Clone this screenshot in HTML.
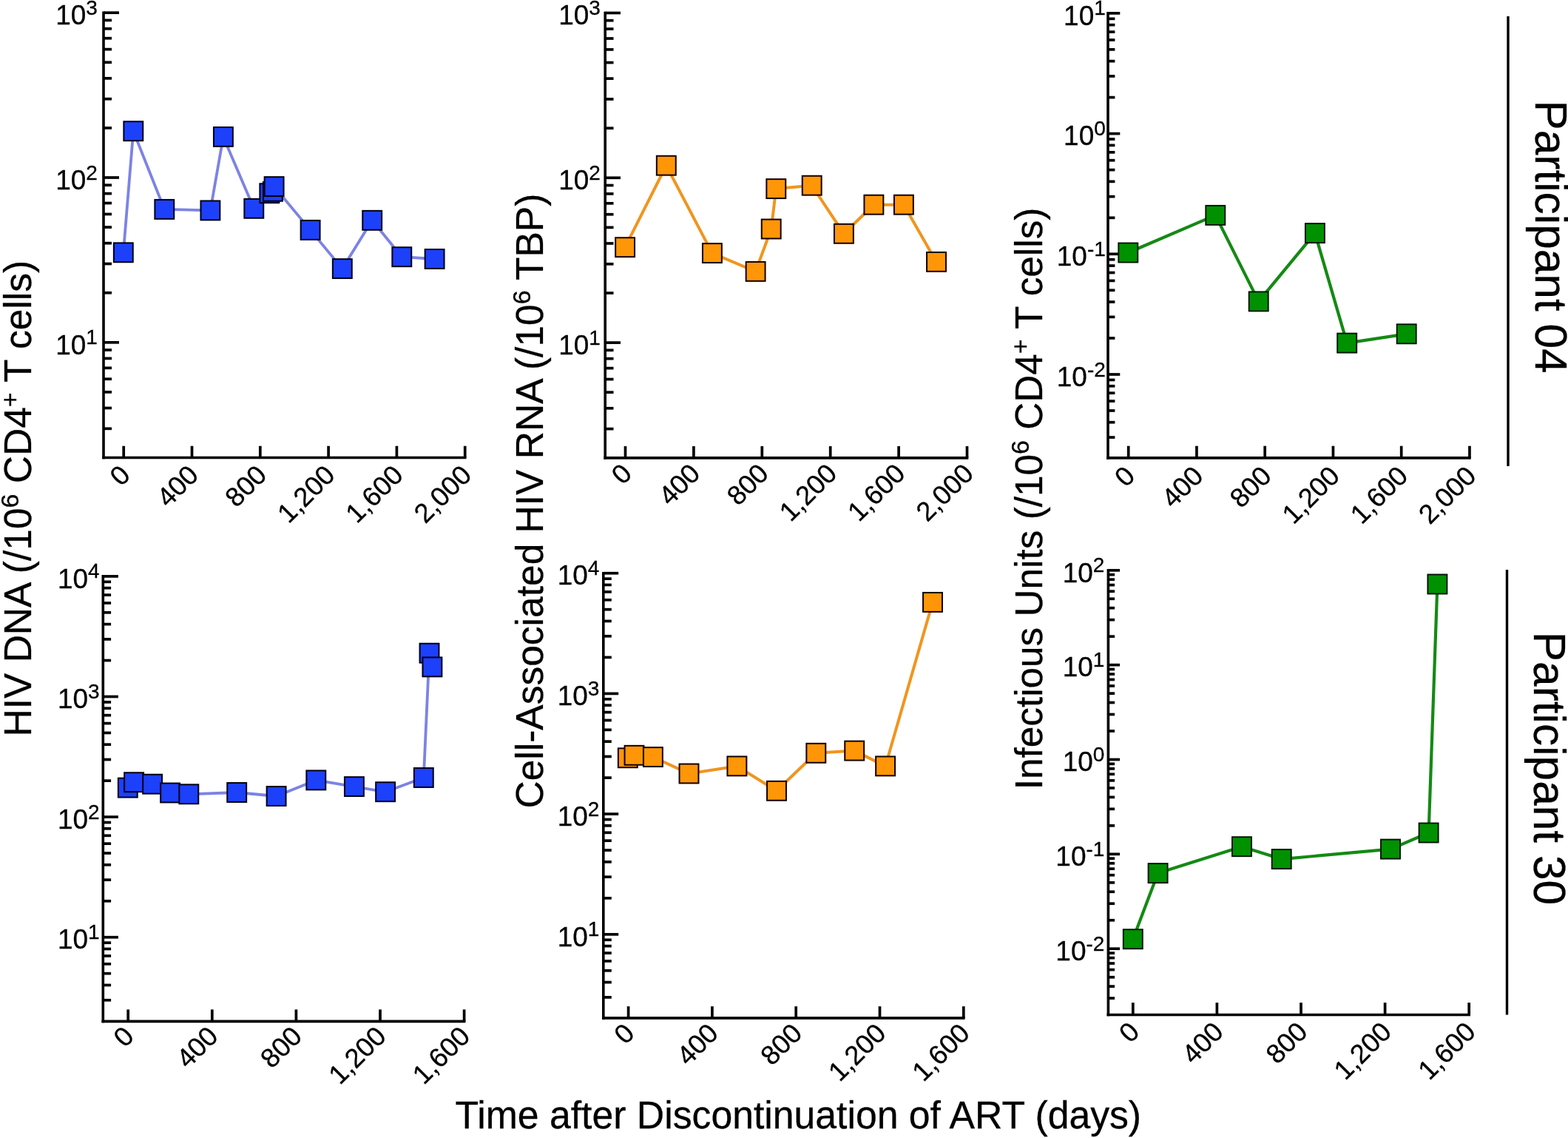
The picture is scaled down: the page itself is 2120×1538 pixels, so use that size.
<!DOCTYPE html>
<html><head><meta charset="utf-8">
<style>html,body{margin:0;padding:0;background:#fff;}body{width:2120px;height:1538px;overflow:hidden;}svg{display:block;}text{stroke:#000;stroke-width:0.3px;}</style>
</head><body>
<svg width="2120" height="1538" viewBox="0 0 2120 1538" font-family="'Liberation Sans', Arial, sans-serif" fill="#000">
<rect width="2120" height="1538" fill="#fff"/>
<line x1="140.00" y1="15.40" x2="140.00" y2="620.33" stroke="#000" stroke-width="3.6"/>
<line x1="138.20" y1="618.53" x2="630.50" y2="618.53" stroke="#000" stroke-width="3.6"/>
<line x1="140.00" y1="579.30" x2="151.00" y2="579.30" stroke="#000" stroke-width="3.7"/>
<line x1="140.00" y1="551.46" x2="151.00" y2="551.46" stroke="#000" stroke-width="3.7"/>
<line x1="140.00" y1="529.87" x2="151.00" y2="529.87" stroke="#000" stroke-width="3.7"/>
<line x1="140.00" y1="512.23" x2="151.00" y2="512.23" stroke="#000" stroke-width="3.7"/>
<line x1="140.00" y1="497.31" x2="151.00" y2="497.31" stroke="#000" stroke-width="3.7"/>
<line x1="140.00" y1="484.39" x2="151.00" y2="484.39" stroke="#000" stroke-width="3.7"/>
<line x1="140.00" y1="472.99" x2="151.00" y2="472.99" stroke="#000" stroke-width="3.7"/>
<line x1="140.00" y1="462.80" x2="161.00" y2="462.80" stroke="#000" stroke-width="3.7"/>
<line x1="140.00" y1="395.73" x2="151.00" y2="395.73" stroke="#000" stroke-width="3.7"/>
<line x1="140.00" y1="356.50" x2="151.00" y2="356.50" stroke="#000" stroke-width="3.7"/>
<line x1="140.00" y1="328.66" x2="151.00" y2="328.66" stroke="#000" stroke-width="3.7"/>
<line x1="140.00" y1="307.07" x2="151.00" y2="307.07" stroke="#000" stroke-width="3.7"/>
<line x1="140.00" y1="289.43" x2="151.00" y2="289.43" stroke="#000" stroke-width="3.7"/>
<line x1="140.00" y1="274.51" x2="151.00" y2="274.51" stroke="#000" stroke-width="3.7"/>
<line x1="140.00" y1="261.59" x2="151.00" y2="261.59" stroke="#000" stroke-width="3.7"/>
<line x1="140.00" y1="250.19" x2="151.00" y2="250.19" stroke="#000" stroke-width="3.7"/>
<line x1="140.00" y1="240.00" x2="161.00" y2="240.00" stroke="#000" stroke-width="3.7"/>
<line x1="140.00" y1="172.93" x2="151.00" y2="172.93" stroke="#000" stroke-width="3.7"/>
<line x1="140.00" y1="133.70" x2="151.00" y2="133.70" stroke="#000" stroke-width="3.7"/>
<line x1="140.00" y1="105.86" x2="151.00" y2="105.86" stroke="#000" stroke-width="3.7"/>
<line x1="140.00" y1="84.27" x2="151.00" y2="84.27" stroke="#000" stroke-width="3.7"/>
<line x1="140.00" y1="66.63" x2="151.00" y2="66.63" stroke="#000" stroke-width="3.7"/>
<line x1="140.00" y1="51.71" x2="151.00" y2="51.71" stroke="#000" stroke-width="3.7"/>
<line x1="140.00" y1="38.79" x2="151.00" y2="38.79" stroke="#000" stroke-width="3.7"/>
<line x1="140.00" y1="27.39" x2="151.00" y2="27.39" stroke="#000" stroke-width="3.7"/>
<line x1="140.00" y1="17.20" x2="161.00" y2="17.20" stroke="#000" stroke-width="3.7"/>
<line x1="167.20" y1="602.73" x2="167.20" y2="618.53" stroke="#000" stroke-width="3.7"/>
<line x1="259.50" y1="602.73" x2="259.50" y2="618.53" stroke="#000" stroke-width="3.7"/>
<line x1="351.80" y1="602.73" x2="351.80" y2="618.53" stroke="#000" stroke-width="3.7"/>
<line x1="444.10" y1="602.73" x2="444.10" y2="618.53" stroke="#000" stroke-width="3.7"/>
<line x1="536.40" y1="602.73" x2="536.40" y2="618.53" stroke="#000" stroke-width="3.7"/>
<line x1="628.70" y1="602.73" x2="628.70" y2="618.53" stroke="#000" stroke-width="3.7"/>
<text x="131.90" y="32.90" text-anchor="end" font-size="37">10<tspan font-size="28" dy="-13.2">3</tspan></text>
<text x="131.90" y="255.70" text-anchor="end" font-size="37">10<tspan font-size="28" dy="-13.2">2</tspan></text>
<text x="131.90" y="478.50" text-anchor="end" font-size="37">10<tspan font-size="28" dy="-13.2">1</tspan></text>
<text transform="translate(178.00,644.13) rotate(-45)" text-anchor="end" font-size="36.5">0</text>
<text transform="translate(270.30,644.13) rotate(-45)" text-anchor="end" font-size="36.5">400</text>
<text transform="translate(362.60,644.13) rotate(-45)" text-anchor="end" font-size="36.5">800</text>
<text transform="translate(454.90,644.13) rotate(-45)" text-anchor="end" font-size="36.5">1,200</text>
<text transform="translate(547.20,644.13) rotate(-45)" text-anchor="end" font-size="36.5">1,600</text>
<text transform="translate(639.50,644.13) rotate(-45)" text-anchor="end" font-size="36.5">2,000</text>
<line x1="818.20" y1="15.70" x2="818.20" y2="620.63" stroke="#000" stroke-width="3.6"/>
<line x1="816.40" y1="618.83" x2="1309.30" y2="618.83" stroke="#000" stroke-width="3.6"/>
<line x1="818.20" y1="579.60" x2="829.50" y2="579.60" stroke="#000" stroke-width="3.7"/>
<line x1="818.20" y1="551.76" x2="829.50" y2="551.76" stroke="#000" stroke-width="3.7"/>
<line x1="818.20" y1="530.17" x2="829.50" y2="530.17" stroke="#000" stroke-width="3.7"/>
<line x1="818.20" y1="512.53" x2="829.50" y2="512.53" stroke="#000" stroke-width="3.7"/>
<line x1="818.20" y1="497.61" x2="829.50" y2="497.61" stroke="#000" stroke-width="3.7"/>
<line x1="818.20" y1="484.69" x2="829.50" y2="484.69" stroke="#000" stroke-width="3.7"/>
<line x1="818.20" y1="473.29" x2="829.50" y2="473.29" stroke="#000" stroke-width="3.7"/>
<line x1="818.20" y1="463.10" x2="839.00" y2="463.10" stroke="#000" stroke-width="3.7"/>
<line x1="818.20" y1="396.03" x2="829.50" y2="396.03" stroke="#000" stroke-width="3.7"/>
<line x1="818.20" y1="356.80" x2="829.50" y2="356.80" stroke="#000" stroke-width="3.7"/>
<line x1="818.20" y1="328.96" x2="829.50" y2="328.96" stroke="#000" stroke-width="3.7"/>
<line x1="818.20" y1="307.37" x2="829.50" y2="307.37" stroke="#000" stroke-width="3.7"/>
<line x1="818.20" y1="289.73" x2="829.50" y2="289.73" stroke="#000" stroke-width="3.7"/>
<line x1="818.20" y1="274.81" x2="829.50" y2="274.81" stroke="#000" stroke-width="3.7"/>
<line x1="818.20" y1="261.89" x2="829.50" y2="261.89" stroke="#000" stroke-width="3.7"/>
<line x1="818.20" y1="250.49" x2="829.50" y2="250.49" stroke="#000" stroke-width="3.7"/>
<line x1="818.20" y1="240.30" x2="839.00" y2="240.30" stroke="#000" stroke-width="3.7"/>
<line x1="818.20" y1="173.23" x2="829.50" y2="173.23" stroke="#000" stroke-width="3.7"/>
<line x1="818.20" y1="134.00" x2="829.50" y2="134.00" stroke="#000" stroke-width="3.7"/>
<line x1="818.20" y1="106.16" x2="829.50" y2="106.16" stroke="#000" stroke-width="3.7"/>
<line x1="818.20" y1="84.57" x2="829.50" y2="84.57" stroke="#000" stroke-width="3.7"/>
<line x1="818.20" y1="66.93" x2="829.50" y2="66.93" stroke="#000" stroke-width="3.7"/>
<line x1="818.20" y1="52.01" x2="829.50" y2="52.01" stroke="#000" stroke-width="3.7"/>
<line x1="818.20" y1="39.09" x2="829.50" y2="39.09" stroke="#000" stroke-width="3.7"/>
<line x1="818.20" y1="27.69" x2="829.50" y2="27.69" stroke="#000" stroke-width="3.7"/>
<line x1="818.20" y1="17.50" x2="839.00" y2="17.50" stroke="#000" stroke-width="3.7"/>
<line x1="845.50" y1="603.03" x2="845.50" y2="618.83" stroke="#000" stroke-width="3.7"/>
<line x1="937.90" y1="603.03" x2="937.90" y2="618.83" stroke="#000" stroke-width="3.7"/>
<line x1="1030.30" y1="603.03" x2="1030.30" y2="618.83" stroke="#000" stroke-width="3.7"/>
<line x1="1122.70" y1="603.03" x2="1122.70" y2="618.83" stroke="#000" stroke-width="3.7"/>
<line x1="1215.10" y1="603.03" x2="1215.10" y2="618.83" stroke="#000" stroke-width="3.7"/>
<line x1="1307.50" y1="603.03" x2="1307.50" y2="618.83" stroke="#000" stroke-width="3.7"/>
<text x="811.90" y="33.20" text-anchor="end" font-size="37">10<tspan font-size="28" dy="-13.2">3</tspan></text>
<text x="811.90" y="256.00" text-anchor="end" font-size="37">10<tspan font-size="28" dy="-13.2">2</tspan></text>
<text x="811.90" y="478.80" text-anchor="end" font-size="37">10<tspan font-size="28" dy="-13.2">1</tspan></text>
<text transform="translate(856.30,642.03) rotate(-45)" text-anchor="end" font-size="36.5">0</text>
<text transform="translate(948.70,642.03) rotate(-45)" text-anchor="end" font-size="36.5">400</text>
<text transform="translate(1041.10,642.03) rotate(-45)" text-anchor="end" font-size="36.5">800</text>
<text transform="translate(1133.50,642.03) rotate(-45)" text-anchor="end" font-size="36.5">1,200</text>
<text transform="translate(1225.90,642.03) rotate(-45)" text-anchor="end" font-size="36.5">1,600</text>
<text transform="translate(1318.30,642.03) rotate(-45)" text-anchor="end" font-size="36.5">2,000</text>
<line x1="1498.00" y1="16.10" x2="1498.00" y2="620.70" stroke="#000" stroke-width="3.6"/>
<line x1="1496.20" y1="618.90" x2="1988.75" y2="618.90" stroke="#000" stroke-width="3.6"/>
<line x1="1498.00" y1="591.07" x2="1507.40" y2="591.07" stroke="#000" stroke-width="3.7"/>
<line x1="1498.00" y1="570.74" x2="1507.40" y2="570.74" stroke="#000" stroke-width="3.7"/>
<line x1="1498.00" y1="554.98" x2="1507.40" y2="554.98" stroke="#000" stroke-width="3.7"/>
<line x1="1498.00" y1="542.09" x2="1507.40" y2="542.09" stroke="#000" stroke-width="3.7"/>
<line x1="1498.00" y1="531.20" x2="1507.40" y2="531.20" stroke="#000" stroke-width="3.7"/>
<line x1="1498.00" y1="521.77" x2="1507.40" y2="521.77" stroke="#000" stroke-width="3.7"/>
<line x1="1498.00" y1="513.44" x2="1507.40" y2="513.44" stroke="#000" stroke-width="3.7"/>
<line x1="1498.00" y1="506.00" x2="1514.30" y2="506.00" stroke="#000" stroke-width="3.7"/>
<line x1="1498.00" y1="457.02" x2="1507.40" y2="457.02" stroke="#000" stroke-width="3.7"/>
<line x1="1498.00" y1="428.37" x2="1507.40" y2="428.37" stroke="#000" stroke-width="3.7"/>
<line x1="1498.00" y1="408.04" x2="1507.40" y2="408.04" stroke="#000" stroke-width="3.7"/>
<line x1="1498.00" y1="392.28" x2="1507.40" y2="392.28" stroke="#000" stroke-width="3.7"/>
<line x1="1498.00" y1="379.39" x2="1507.40" y2="379.39" stroke="#000" stroke-width="3.7"/>
<line x1="1498.00" y1="368.50" x2="1507.40" y2="368.50" stroke="#000" stroke-width="3.7"/>
<line x1="1498.00" y1="359.07" x2="1507.40" y2="359.07" stroke="#000" stroke-width="3.7"/>
<line x1="1498.00" y1="350.74" x2="1507.40" y2="350.74" stroke="#000" stroke-width="3.7"/>
<line x1="1498.00" y1="343.30" x2="1514.30" y2="343.30" stroke="#000" stroke-width="3.7"/>
<line x1="1498.00" y1="294.32" x2="1507.40" y2="294.32" stroke="#000" stroke-width="3.7"/>
<line x1="1498.00" y1="265.67" x2="1507.40" y2="265.67" stroke="#000" stroke-width="3.7"/>
<line x1="1498.00" y1="245.34" x2="1507.40" y2="245.34" stroke="#000" stroke-width="3.7"/>
<line x1="1498.00" y1="229.58" x2="1507.40" y2="229.58" stroke="#000" stroke-width="3.7"/>
<line x1="1498.00" y1="216.69" x2="1507.40" y2="216.69" stroke="#000" stroke-width="3.7"/>
<line x1="1498.00" y1="205.80" x2="1507.40" y2="205.80" stroke="#000" stroke-width="3.7"/>
<line x1="1498.00" y1="196.37" x2="1507.40" y2="196.37" stroke="#000" stroke-width="3.7"/>
<line x1="1498.00" y1="188.04" x2="1507.40" y2="188.04" stroke="#000" stroke-width="3.7"/>
<line x1="1498.00" y1="180.60" x2="1514.30" y2="180.60" stroke="#000" stroke-width="3.7"/>
<line x1="1498.00" y1="131.62" x2="1507.40" y2="131.62" stroke="#000" stroke-width="3.7"/>
<line x1="1498.00" y1="102.97" x2="1507.40" y2="102.97" stroke="#000" stroke-width="3.7"/>
<line x1="1498.00" y1="82.64" x2="1507.40" y2="82.64" stroke="#000" stroke-width="3.7"/>
<line x1="1498.00" y1="66.88" x2="1507.40" y2="66.88" stroke="#000" stroke-width="3.7"/>
<line x1="1498.00" y1="53.99" x2="1507.40" y2="53.99" stroke="#000" stroke-width="3.7"/>
<line x1="1498.00" y1="43.10" x2="1507.40" y2="43.10" stroke="#000" stroke-width="3.7"/>
<line x1="1498.00" y1="33.67" x2="1507.40" y2="33.67" stroke="#000" stroke-width="3.7"/>
<line x1="1498.00" y1="25.34" x2="1507.40" y2="25.34" stroke="#000" stroke-width="3.7"/>
<line x1="1498.00" y1="17.90" x2="1514.30" y2="17.90" stroke="#000" stroke-width="3.7"/>
<line x1="1525.70" y1="602.70" x2="1525.70" y2="618.90" stroke="#000" stroke-width="3.7"/>
<line x1="1617.95" y1="602.70" x2="1617.95" y2="618.90" stroke="#000" stroke-width="3.7"/>
<line x1="1710.20" y1="602.70" x2="1710.20" y2="618.90" stroke="#000" stroke-width="3.7"/>
<line x1="1802.45" y1="602.70" x2="1802.45" y2="618.90" stroke="#000" stroke-width="3.7"/>
<line x1="1894.70" y1="602.70" x2="1894.70" y2="618.90" stroke="#000" stroke-width="3.7"/>
<line x1="1986.95" y1="602.70" x2="1986.95" y2="618.90" stroke="#000" stroke-width="3.7"/>
<text x="1494.80" y="33.60" text-anchor="end" font-size="37">10<tspan font-size="28" dy="-13.2">1</tspan></text>
<text x="1494.80" y="196.30" text-anchor="end" font-size="37">10<tspan font-size="28" dy="-13.2">0</tspan></text>
<text x="1494.80" y="359.00" text-anchor="end" font-size="37">10<tspan font-size="28" dy="-13.2">-1</tspan></text>
<text x="1494.80" y="521.70" text-anchor="end" font-size="37">10<tspan font-size="28" dy="-13.2">-2</tspan></text>
<text transform="translate(1536.50,645.30) rotate(-45)" text-anchor="end" font-size="36.5">0</text>
<text transform="translate(1628.75,645.30) rotate(-45)" text-anchor="end" font-size="36.5">400</text>
<text transform="translate(1721.00,645.30) rotate(-45)" text-anchor="end" font-size="36.5">800</text>
<text transform="translate(1813.25,645.30) rotate(-45)" text-anchor="end" font-size="36.5">1,200</text>
<text transform="translate(1905.50,645.30) rotate(-45)" text-anchor="end" font-size="36.5">1,600</text>
<text transform="translate(1997.75,645.30) rotate(-45)" text-anchor="end" font-size="36.5">2,000</text>
<line x1="139.30" y1="777.10" x2="139.30" y2="1382.15" stroke="#000" stroke-width="3.6"/>
<line x1="137.50" y1="1380.35" x2="629.40" y2="1380.35" stroke="#000" stroke-width="3.6"/>
<line x1="139.30" y1="1351.72" x2="150.10" y2="1351.72" stroke="#000" stroke-width="3.7"/>
<line x1="139.30" y1="1331.41" x2="150.10" y2="1331.41" stroke="#000" stroke-width="3.7"/>
<line x1="139.30" y1="1315.65" x2="150.10" y2="1315.65" stroke="#000" stroke-width="3.7"/>
<line x1="139.30" y1="1302.77" x2="150.10" y2="1302.77" stroke="#000" stroke-width="3.7"/>
<line x1="139.30" y1="1291.89" x2="150.10" y2="1291.89" stroke="#000" stroke-width="3.7"/>
<line x1="139.30" y1="1282.46" x2="150.10" y2="1282.46" stroke="#000" stroke-width="3.7"/>
<line x1="139.30" y1="1274.14" x2="150.10" y2="1274.14" stroke="#000" stroke-width="3.7"/>
<line x1="139.30" y1="1266.70" x2="159.90" y2="1266.70" stroke="#000" stroke-width="3.7"/>
<line x1="139.30" y1="1217.75" x2="150.10" y2="1217.75" stroke="#000" stroke-width="3.7"/>
<line x1="139.30" y1="1189.12" x2="150.10" y2="1189.12" stroke="#000" stroke-width="3.7"/>
<line x1="139.30" y1="1168.81" x2="150.10" y2="1168.81" stroke="#000" stroke-width="3.7"/>
<line x1="139.30" y1="1153.05" x2="150.10" y2="1153.05" stroke="#000" stroke-width="3.7"/>
<line x1="139.30" y1="1140.17" x2="150.10" y2="1140.17" stroke="#000" stroke-width="3.7"/>
<line x1="139.30" y1="1129.29" x2="150.10" y2="1129.29" stroke="#000" stroke-width="3.7"/>
<line x1="139.30" y1="1119.86" x2="150.10" y2="1119.86" stroke="#000" stroke-width="3.7"/>
<line x1="139.30" y1="1111.54" x2="150.10" y2="1111.54" stroke="#000" stroke-width="3.7"/>
<line x1="139.30" y1="1104.10" x2="159.90" y2="1104.10" stroke="#000" stroke-width="3.7"/>
<line x1="139.30" y1="1055.15" x2="150.10" y2="1055.15" stroke="#000" stroke-width="3.7"/>
<line x1="139.30" y1="1026.52" x2="150.10" y2="1026.52" stroke="#000" stroke-width="3.7"/>
<line x1="139.30" y1="1006.21" x2="150.10" y2="1006.21" stroke="#000" stroke-width="3.7"/>
<line x1="139.30" y1="990.45" x2="150.10" y2="990.45" stroke="#000" stroke-width="3.7"/>
<line x1="139.30" y1="977.57" x2="150.10" y2="977.57" stroke="#000" stroke-width="3.7"/>
<line x1="139.30" y1="966.69" x2="150.10" y2="966.69" stroke="#000" stroke-width="3.7"/>
<line x1="139.30" y1="957.26" x2="150.10" y2="957.26" stroke="#000" stroke-width="3.7"/>
<line x1="139.30" y1="948.94" x2="150.10" y2="948.94" stroke="#000" stroke-width="3.7"/>
<line x1="139.30" y1="941.50" x2="159.90" y2="941.50" stroke="#000" stroke-width="3.7"/>
<line x1="139.30" y1="892.55" x2="150.10" y2="892.55" stroke="#000" stroke-width="3.7"/>
<line x1="139.30" y1="863.92" x2="150.10" y2="863.92" stroke="#000" stroke-width="3.7"/>
<line x1="139.30" y1="843.61" x2="150.10" y2="843.61" stroke="#000" stroke-width="3.7"/>
<line x1="139.30" y1="827.85" x2="150.10" y2="827.85" stroke="#000" stroke-width="3.7"/>
<line x1="139.30" y1="814.97" x2="150.10" y2="814.97" stroke="#000" stroke-width="3.7"/>
<line x1="139.30" y1="804.09" x2="150.10" y2="804.09" stroke="#000" stroke-width="3.7"/>
<line x1="139.30" y1="794.66" x2="150.10" y2="794.66" stroke="#000" stroke-width="3.7"/>
<line x1="139.30" y1="786.34" x2="150.10" y2="786.34" stroke="#000" stroke-width="3.7"/>
<line x1="139.30" y1="778.90" x2="159.90" y2="778.90" stroke="#000" stroke-width="3.7"/>
<line x1="173.20" y1="1364.35" x2="173.20" y2="1380.35" stroke="#000" stroke-width="3.7"/>
<line x1="286.80" y1="1364.35" x2="286.80" y2="1380.35" stroke="#000" stroke-width="3.7"/>
<line x1="400.40" y1="1364.35" x2="400.40" y2="1380.35" stroke="#000" stroke-width="3.7"/>
<line x1="514.00" y1="1364.35" x2="514.00" y2="1380.35" stroke="#000" stroke-width="3.7"/>
<line x1="627.60" y1="1364.35" x2="627.60" y2="1380.35" stroke="#000" stroke-width="3.7"/>
<text x="134.70" y="794.60" text-anchor="end" font-size="37">10<tspan font-size="28" dy="-13.2">4</tspan></text>
<text x="134.70" y="957.20" text-anchor="end" font-size="37">10<tspan font-size="28" dy="-13.2">3</tspan></text>
<text x="134.70" y="1119.80" text-anchor="end" font-size="37">10<tspan font-size="28" dy="-13.2">2</tspan></text>
<text x="134.70" y="1282.40" text-anchor="end" font-size="37">10<tspan font-size="28" dy="-13.2">1</tspan></text>
<text transform="translate(183.20,1402.55) rotate(-45)" text-anchor="end" font-size="36.5">0</text>
<text transform="translate(296.80,1402.55) rotate(-45)" text-anchor="end" font-size="36.5">400</text>
<text transform="translate(410.40,1402.55) rotate(-45)" text-anchor="end" font-size="36.5">800</text>
<text transform="translate(524.00,1402.55) rotate(-45)" text-anchor="end" font-size="36.5">1,200</text>
<text transform="translate(637.60,1402.55) rotate(-45)" text-anchor="end" font-size="36.5">1,600</text>
<line x1="815.80" y1="772.90" x2="815.80" y2="1377.70" stroke="#000" stroke-width="3.6"/>
<line x1="814.00" y1="1375.90" x2="1304.60" y2="1375.90" stroke="#000" stroke-width="3.6"/>
<line x1="815.80" y1="1347.87" x2="826.80" y2="1347.87" stroke="#000" stroke-width="3.7"/>
<line x1="815.80" y1="1327.54" x2="826.80" y2="1327.54" stroke="#000" stroke-width="3.7"/>
<line x1="815.80" y1="1311.78" x2="826.80" y2="1311.78" stroke="#000" stroke-width="3.7"/>
<line x1="815.80" y1="1298.89" x2="826.80" y2="1298.89" stroke="#000" stroke-width="3.7"/>
<line x1="815.80" y1="1288.00" x2="826.80" y2="1288.00" stroke="#000" stroke-width="3.7"/>
<line x1="815.80" y1="1278.57" x2="826.80" y2="1278.57" stroke="#000" stroke-width="3.7"/>
<line x1="815.80" y1="1270.24" x2="826.80" y2="1270.24" stroke="#000" stroke-width="3.7"/>
<line x1="815.80" y1="1262.80" x2="836.20" y2="1262.80" stroke="#000" stroke-width="3.7"/>
<line x1="815.80" y1="1213.82" x2="826.80" y2="1213.82" stroke="#000" stroke-width="3.7"/>
<line x1="815.80" y1="1185.17" x2="826.80" y2="1185.17" stroke="#000" stroke-width="3.7"/>
<line x1="815.80" y1="1164.84" x2="826.80" y2="1164.84" stroke="#000" stroke-width="3.7"/>
<line x1="815.80" y1="1149.08" x2="826.80" y2="1149.08" stroke="#000" stroke-width="3.7"/>
<line x1="815.80" y1="1136.19" x2="826.80" y2="1136.19" stroke="#000" stroke-width="3.7"/>
<line x1="815.80" y1="1125.30" x2="826.80" y2="1125.30" stroke="#000" stroke-width="3.7"/>
<line x1="815.80" y1="1115.87" x2="826.80" y2="1115.87" stroke="#000" stroke-width="3.7"/>
<line x1="815.80" y1="1107.54" x2="826.80" y2="1107.54" stroke="#000" stroke-width="3.7"/>
<line x1="815.80" y1="1100.10" x2="836.20" y2="1100.10" stroke="#000" stroke-width="3.7"/>
<line x1="815.80" y1="1051.12" x2="826.80" y2="1051.12" stroke="#000" stroke-width="3.7"/>
<line x1="815.80" y1="1022.47" x2="826.80" y2="1022.47" stroke="#000" stroke-width="3.7"/>
<line x1="815.80" y1="1002.14" x2="826.80" y2="1002.14" stroke="#000" stroke-width="3.7"/>
<line x1="815.80" y1="986.38" x2="826.80" y2="986.38" stroke="#000" stroke-width="3.7"/>
<line x1="815.80" y1="973.49" x2="826.80" y2="973.49" stroke="#000" stroke-width="3.7"/>
<line x1="815.80" y1="962.60" x2="826.80" y2="962.60" stroke="#000" stroke-width="3.7"/>
<line x1="815.80" y1="953.17" x2="826.80" y2="953.17" stroke="#000" stroke-width="3.7"/>
<line x1="815.80" y1="944.84" x2="826.80" y2="944.84" stroke="#000" stroke-width="3.7"/>
<line x1="815.80" y1="937.40" x2="836.20" y2="937.40" stroke="#000" stroke-width="3.7"/>
<line x1="815.80" y1="888.42" x2="826.80" y2="888.42" stroke="#000" stroke-width="3.7"/>
<line x1="815.80" y1="859.77" x2="826.80" y2="859.77" stroke="#000" stroke-width="3.7"/>
<line x1="815.80" y1="839.44" x2="826.80" y2="839.44" stroke="#000" stroke-width="3.7"/>
<line x1="815.80" y1="823.68" x2="826.80" y2="823.68" stroke="#000" stroke-width="3.7"/>
<line x1="815.80" y1="810.79" x2="826.80" y2="810.79" stroke="#000" stroke-width="3.7"/>
<line x1="815.80" y1="799.90" x2="826.80" y2="799.90" stroke="#000" stroke-width="3.7"/>
<line x1="815.80" y1="790.47" x2="826.80" y2="790.47" stroke="#000" stroke-width="3.7"/>
<line x1="815.80" y1="782.14" x2="826.80" y2="782.14" stroke="#000" stroke-width="3.7"/>
<line x1="815.80" y1="774.70" x2="836.20" y2="774.70" stroke="#000" stroke-width="3.7"/>
<line x1="849.60" y1="1360.10" x2="849.60" y2="1375.90" stroke="#000" stroke-width="3.7"/>
<line x1="962.90" y1="1360.10" x2="962.90" y2="1375.90" stroke="#000" stroke-width="3.7"/>
<line x1="1076.20" y1="1360.10" x2="1076.20" y2="1375.90" stroke="#000" stroke-width="3.7"/>
<line x1="1189.50" y1="1360.10" x2="1189.50" y2="1375.90" stroke="#000" stroke-width="3.7"/>
<line x1="1302.80" y1="1360.10" x2="1302.80" y2="1375.90" stroke="#000" stroke-width="3.7"/>
<text x="810.40" y="790.40" text-anchor="end" font-size="37">10<tspan font-size="28" dy="-13.2">4</tspan></text>
<text x="810.40" y="953.10" text-anchor="end" font-size="37">10<tspan font-size="28" dy="-13.2">3</tspan></text>
<text x="810.40" y="1115.80" text-anchor="end" font-size="37">10<tspan font-size="28" dy="-13.2">2</tspan></text>
<text x="810.40" y="1278.50" text-anchor="end" font-size="37">10<tspan font-size="28" dy="-13.2">1</tspan></text>
<text transform="translate(859.90,1398.60) rotate(-45)" text-anchor="end" font-size="36.5">0</text>
<text transform="translate(973.20,1398.60) rotate(-45)" text-anchor="end" font-size="36.5">400</text>
<text transform="translate(1086.50,1398.60) rotate(-45)" text-anchor="end" font-size="36.5">800</text>
<text transform="translate(1199.80,1398.60) rotate(-45)" text-anchor="end" font-size="36.5">1,200</text>
<text transform="translate(1313.10,1398.60) rotate(-45)" text-anchor="end" font-size="36.5">1,600</text>
<line x1="1498.40" y1="769.00" x2="1498.40" y2="1373.36" stroke="#000" stroke-width="3.6"/>
<line x1="1496.60" y1="1371.56" x2="1988.00" y2="1371.56" stroke="#000" stroke-width="3.6"/>
<line x1="1498.40" y1="1349.05" x2="1507.10" y2="1349.05" stroke="#000" stroke-width="3.7"/>
<line x1="1498.40" y1="1333.08" x2="1507.10" y2="1333.08" stroke="#000" stroke-width="3.7"/>
<line x1="1498.40" y1="1320.69" x2="1507.10" y2="1320.69" stroke="#000" stroke-width="3.7"/>
<line x1="1498.40" y1="1310.56" x2="1507.10" y2="1310.56" stroke="#000" stroke-width="3.7"/>
<line x1="1498.40" y1="1302.00" x2="1507.10" y2="1302.00" stroke="#000" stroke-width="3.7"/>
<line x1="1498.40" y1="1294.59" x2="1507.10" y2="1294.59" stroke="#000" stroke-width="3.7"/>
<line x1="1498.40" y1="1288.05" x2="1507.10" y2="1288.05" stroke="#000" stroke-width="3.7"/>
<line x1="1498.40" y1="1282.20" x2="1514.10" y2="1282.20" stroke="#000" stroke-width="3.7"/>
<line x1="1498.40" y1="1243.71" x2="1507.10" y2="1243.71" stroke="#000" stroke-width="3.7"/>
<line x1="1498.40" y1="1221.20" x2="1507.10" y2="1221.20" stroke="#000" stroke-width="3.7"/>
<line x1="1498.40" y1="1205.23" x2="1507.10" y2="1205.23" stroke="#000" stroke-width="3.7"/>
<line x1="1498.40" y1="1192.84" x2="1507.10" y2="1192.84" stroke="#000" stroke-width="3.7"/>
<line x1="1498.40" y1="1182.71" x2="1507.10" y2="1182.71" stroke="#000" stroke-width="3.7"/>
<line x1="1498.40" y1="1174.15" x2="1507.10" y2="1174.15" stroke="#000" stroke-width="3.7"/>
<line x1="1498.40" y1="1166.74" x2="1507.10" y2="1166.74" stroke="#000" stroke-width="3.7"/>
<line x1="1498.40" y1="1160.20" x2="1507.10" y2="1160.20" stroke="#000" stroke-width="3.7"/>
<line x1="1498.40" y1="1154.35" x2="1514.10" y2="1154.35" stroke="#000" stroke-width="3.7"/>
<line x1="1498.40" y1="1115.86" x2="1507.10" y2="1115.86" stroke="#000" stroke-width="3.7"/>
<line x1="1498.40" y1="1093.35" x2="1507.10" y2="1093.35" stroke="#000" stroke-width="3.7"/>
<line x1="1498.40" y1="1077.38" x2="1507.10" y2="1077.38" stroke="#000" stroke-width="3.7"/>
<line x1="1498.40" y1="1064.99" x2="1507.10" y2="1064.99" stroke="#000" stroke-width="3.7"/>
<line x1="1498.40" y1="1054.86" x2="1507.10" y2="1054.86" stroke="#000" stroke-width="3.7"/>
<line x1="1498.40" y1="1046.30" x2="1507.10" y2="1046.30" stroke="#000" stroke-width="3.7"/>
<line x1="1498.40" y1="1038.89" x2="1507.10" y2="1038.89" stroke="#000" stroke-width="3.7"/>
<line x1="1498.40" y1="1032.35" x2="1507.10" y2="1032.35" stroke="#000" stroke-width="3.7"/>
<line x1="1498.40" y1="1026.50" x2="1514.10" y2="1026.50" stroke="#000" stroke-width="3.7"/>
<line x1="1498.40" y1="988.01" x2="1507.10" y2="988.01" stroke="#000" stroke-width="3.7"/>
<line x1="1498.40" y1="965.50" x2="1507.10" y2="965.50" stroke="#000" stroke-width="3.7"/>
<line x1="1498.40" y1="949.53" x2="1507.10" y2="949.53" stroke="#000" stroke-width="3.7"/>
<line x1="1498.40" y1="937.14" x2="1507.10" y2="937.14" stroke="#000" stroke-width="3.7"/>
<line x1="1498.40" y1="927.01" x2="1507.10" y2="927.01" stroke="#000" stroke-width="3.7"/>
<line x1="1498.40" y1="918.45" x2="1507.10" y2="918.45" stroke="#000" stroke-width="3.7"/>
<line x1="1498.40" y1="911.04" x2="1507.10" y2="911.04" stroke="#000" stroke-width="3.7"/>
<line x1="1498.40" y1="904.50" x2="1507.10" y2="904.50" stroke="#000" stroke-width="3.7"/>
<line x1="1498.40" y1="898.65" x2="1514.10" y2="898.65" stroke="#000" stroke-width="3.7"/>
<line x1="1498.40" y1="860.16" x2="1507.10" y2="860.16" stroke="#000" stroke-width="3.7"/>
<line x1="1498.40" y1="837.65" x2="1507.10" y2="837.65" stroke="#000" stroke-width="3.7"/>
<line x1="1498.40" y1="821.68" x2="1507.10" y2="821.68" stroke="#000" stroke-width="3.7"/>
<line x1="1498.40" y1="809.29" x2="1507.10" y2="809.29" stroke="#000" stroke-width="3.7"/>
<line x1="1498.40" y1="799.16" x2="1507.10" y2="799.16" stroke="#000" stroke-width="3.7"/>
<line x1="1498.40" y1="790.60" x2="1507.10" y2="790.60" stroke="#000" stroke-width="3.7"/>
<line x1="1498.40" y1="783.19" x2="1507.10" y2="783.19" stroke="#000" stroke-width="3.7"/>
<line x1="1498.40" y1="776.65" x2="1507.10" y2="776.65" stroke="#000" stroke-width="3.7"/>
<line x1="1498.40" y1="770.80" x2="1514.10" y2="770.80" stroke="#000" stroke-width="3.7"/>
<line x1="1531.80" y1="1355.06" x2="1531.80" y2="1371.56" stroke="#000" stroke-width="3.7"/>
<line x1="1645.40" y1="1355.06" x2="1645.40" y2="1371.56" stroke="#000" stroke-width="3.7"/>
<line x1="1759.00" y1="1355.06" x2="1759.00" y2="1371.56" stroke="#000" stroke-width="3.7"/>
<line x1="1872.60" y1="1355.06" x2="1872.60" y2="1371.56" stroke="#000" stroke-width="3.7"/>
<line x1="1986.20" y1="1355.06" x2="1986.20" y2="1371.56" stroke="#000" stroke-width="3.7"/>
<text x="1493.40" y="786.50" text-anchor="end" font-size="37">10<tspan font-size="28" dy="-13.2">2</tspan></text>
<text x="1493.40" y="914.35" text-anchor="end" font-size="37">10<tspan font-size="28" dy="-13.2">1</tspan></text>
<text x="1493.40" y="1042.20" text-anchor="end" font-size="37">10<tspan font-size="28" dy="-13.2">0</tspan></text>
<text x="1493.40" y="1170.05" text-anchor="end" font-size="37">10<tspan font-size="28" dy="-13.2">-1</tspan></text>
<text x="1493.40" y="1297.90" text-anchor="end" font-size="37">10<tspan font-size="28" dy="-13.2">-2</tspan></text>
<text transform="translate(1542.60,1396.66) rotate(-45)" text-anchor="end" font-size="36.5">0</text>
<text transform="translate(1656.20,1396.66) rotate(-45)" text-anchor="end" font-size="36.5">400</text>
<text transform="translate(1769.80,1396.66) rotate(-45)" text-anchor="end" font-size="36.5">800</text>
<text transform="translate(1883.40,1396.66) rotate(-45)" text-anchor="end" font-size="36.5">1,200</text>
<text transform="translate(1997.00,1396.66) rotate(-45)" text-anchor="end" font-size="36.5">1,600</text>
<polyline points="166.8,341.3 180.3,177.2 222.3,282.9 284.4,284.4 301.9,184.9 343.3,281.8 364.3,261.2 368.9,258.8 370.6,252.1 419.6,310.9 462.8,363.1 503.2,297.8 543.3,347.2 587.6,350.0" fill="none" stroke="#7c83e4" stroke-width="3.8" stroke-linejoin="round"/>
<rect x="153.85" y="328.35" width="25.90" height="25.90" fill="#1d40fb" stroke="#000014" stroke-width="2.0"/>
<rect x="167.35" y="164.25" width="25.90" height="25.90" fill="#1d40fb" stroke="#000014" stroke-width="2.0"/>
<rect x="209.35" y="269.95" width="25.90" height="25.90" fill="#1d40fb" stroke="#000014" stroke-width="2.0"/>
<rect x="271.45" y="271.45" width="25.90" height="25.90" fill="#1d40fb" stroke="#000014" stroke-width="2.0"/>
<rect x="288.95" y="171.95" width="25.90" height="25.90" fill="#1d40fb" stroke="#000014" stroke-width="2.0"/>
<rect x="330.35" y="268.85" width="25.90" height="25.90" fill="#1d40fb" stroke="#000014" stroke-width="2.0"/>
<rect x="351.35" y="248.25" width="25.90" height="25.90" fill="#1d40fb" stroke="#000014" stroke-width="2.0"/>
<rect x="355.95" y="245.85" width="25.90" height="25.90" fill="#1d40fb" stroke="#000014" stroke-width="2.0"/>
<rect x="357.65" y="239.15" width="25.90" height="25.90" fill="#1d40fb" stroke="#000014" stroke-width="2.0"/>
<rect x="406.65" y="297.95" width="25.90" height="25.90" fill="#1d40fb" stroke="#000014" stroke-width="2.0"/>
<rect x="449.85" y="350.15" width="25.90" height="25.90" fill="#1d40fb" stroke="#000014" stroke-width="2.0"/>
<rect x="490.25" y="284.85" width="25.90" height="25.90" fill="#1d40fb" stroke="#000014" stroke-width="2.0"/>
<rect x="530.35" y="334.25" width="25.90" height="25.90" fill="#1d40fb" stroke="#000014" stroke-width="2.0"/>
<rect x="574.65" y="337.05" width="25.90" height="25.90" fill="#1d40fb" stroke="#000014" stroke-width="2.0"/>
<polyline points="845.1,334.2 900.8,223.7 962.9,342.1 1021.6,366.9 1042.7,309.5 1049.3,255.1 1097.7,250.7 1140.9,315.8 1181.4,276.7 1221.9,276.7 1266.0,353.9" fill="none" stroke="#f0951f" stroke-width="4.0" stroke-linejoin="round"/>
<rect x="832.15" y="321.25" width="25.90" height="25.90" fill="#ff9607" stroke="#120000" stroke-width="2.0"/>
<rect x="887.85" y="210.75" width="25.90" height="25.90" fill="#ff9607" stroke="#120000" stroke-width="2.0"/>
<rect x="949.95" y="329.15" width="25.90" height="25.90" fill="#ff9607" stroke="#120000" stroke-width="2.0"/>
<rect x="1008.65" y="353.95" width="25.90" height="25.90" fill="#ff9607" stroke="#120000" stroke-width="2.0"/>
<rect x="1029.75" y="296.55" width="25.90" height="25.90" fill="#ff9607" stroke="#120000" stroke-width="2.0"/>
<rect x="1036.35" y="242.15" width="25.90" height="25.90" fill="#ff9607" stroke="#120000" stroke-width="2.0"/>
<rect x="1084.75" y="237.75" width="25.90" height="25.90" fill="#ff9607" stroke="#120000" stroke-width="2.0"/>
<rect x="1127.95" y="302.85" width="25.90" height="25.90" fill="#ff9607" stroke="#120000" stroke-width="2.0"/>
<rect x="1168.45" y="263.75" width="25.90" height="25.90" fill="#ff9607" stroke="#120000" stroke-width="2.0"/>
<rect x="1208.95" y="263.75" width="25.90" height="25.90" fill="#ff9607" stroke="#120000" stroke-width="2.0"/>
<rect x="1253.05" y="340.95" width="25.90" height="25.90" fill="#ff9607" stroke="#120000" stroke-width="2.0"/>
<polyline points="1525.3,341.5 1643.3,290.9 1701.7,407.4 1777.9,315.1 1821.2,463.6 1901.7,451.3" fill="none" stroke="#148a14" stroke-width="4.2" stroke-linejoin="round"/>
<rect x="1512.30" y="328.50" width="26.00" height="26.00" fill="#009100" stroke="#010" stroke-width="1.9"/>
<rect x="1630.30" y="277.90" width="26.00" height="26.00" fill="#009100" stroke="#010" stroke-width="1.9"/>
<rect x="1688.70" y="394.40" width="26.00" height="26.00" fill="#009100" stroke="#010" stroke-width="1.9"/>
<rect x="1764.90" y="302.10" width="26.00" height="26.00" fill="#009100" stroke="#010" stroke-width="1.9"/>
<rect x="1808.20" y="450.60" width="26.00" height="26.00" fill="#009100" stroke="#010" stroke-width="1.9"/>
<rect x="1888.70" y="438.30" width="26.00" height="26.00" fill="#009100" stroke="#010" stroke-width="1.9"/>
<polyline points="172.8,1064.6 181.1,1057.2 206.1,1059.7 230.1,1071.5 255.3,1073.3 320.2,1071.0 373.6,1076.0 427.3,1054.4 478.9,1063.1 521.1,1070.2 572.8,1051.0 580.5,882.7 584.4,901.4" fill="none" stroke="#7c83e4" stroke-width="3.8" stroke-linejoin="round"/>
<rect x="159.85" y="1051.65" width="25.90" height="25.90" fill="#1d40fb" stroke="#000014" stroke-width="2.0"/>
<rect x="168.15" y="1044.25" width="25.90" height="25.90" fill="#1d40fb" stroke="#000014" stroke-width="2.0"/>
<rect x="193.15" y="1046.75" width="25.90" height="25.90" fill="#1d40fb" stroke="#000014" stroke-width="2.0"/>
<rect x="217.15" y="1058.55" width="25.90" height="25.90" fill="#1d40fb" stroke="#000014" stroke-width="2.0"/>
<rect x="242.35" y="1060.35" width="25.90" height="25.90" fill="#1d40fb" stroke="#000014" stroke-width="2.0"/>
<rect x="307.25" y="1058.05" width="25.90" height="25.90" fill="#1d40fb" stroke="#000014" stroke-width="2.0"/>
<rect x="360.65" y="1063.05" width="25.90" height="25.90" fill="#1d40fb" stroke="#000014" stroke-width="2.0"/>
<rect x="414.35" y="1041.45" width="25.90" height="25.90" fill="#1d40fb" stroke="#000014" stroke-width="2.0"/>
<rect x="465.95" y="1050.15" width="25.90" height="25.90" fill="#1d40fb" stroke="#000014" stroke-width="2.0"/>
<rect x="508.15" y="1057.25" width="25.90" height="25.90" fill="#1d40fb" stroke="#000014" stroke-width="2.0"/>
<rect x="559.85" y="1038.05" width="25.90" height="25.90" fill="#1d40fb" stroke="#000014" stroke-width="2.0"/>
<rect x="567.55" y="869.75" width="25.90" height="25.90" fill="#1d40fb" stroke="#000014" stroke-width="2.0"/>
<rect x="571.45" y="888.45" width="25.90" height="25.90" fill="#1d40fb" stroke="#000014" stroke-width="2.0"/>
<polyline points="848.8,1024.3 857.5,1020.8 882.9,1023.1 931.5,1045.5 996.4,1035.4 1050.0,1068.8 1103.3,1017.8 1155.2,1014.6 1197.1,1035.4 1261.0,813.9" fill="none" stroke="#f0951f" stroke-width="4.0" stroke-linejoin="round"/>
<rect x="835.85" y="1011.35" width="25.90" height="25.90" fill="#ff9607" stroke="#120000" stroke-width="2.0"/>
<rect x="844.55" y="1007.85" width="25.90" height="25.90" fill="#ff9607" stroke="#120000" stroke-width="2.0"/>
<rect x="869.95" y="1010.15" width="25.90" height="25.90" fill="#ff9607" stroke="#120000" stroke-width="2.0"/>
<rect x="918.55" y="1032.55" width="25.90" height="25.90" fill="#ff9607" stroke="#120000" stroke-width="2.0"/>
<rect x="983.45" y="1022.45" width="25.90" height="25.90" fill="#ff9607" stroke="#120000" stroke-width="2.0"/>
<rect x="1037.05" y="1055.85" width="25.90" height="25.90" fill="#ff9607" stroke="#120000" stroke-width="2.0"/>
<rect x="1090.35" y="1004.85" width="25.90" height="25.90" fill="#ff9607" stroke="#120000" stroke-width="2.0"/>
<rect x="1142.25" y="1001.65" width="25.90" height="25.90" fill="#ff9607" stroke="#120000" stroke-width="2.0"/>
<rect x="1184.15" y="1022.45" width="25.90" height="25.90" fill="#ff9607" stroke="#120000" stroke-width="2.0"/>
<rect x="1248.05" y="800.95" width="25.90" height="25.90" fill="#ff9607" stroke="#120000" stroke-width="2.0"/>
<polyline points="1531.8,1269.2 1565.6,1180.1 1679.0,1144.2 1732.7,1161.1 1880.0,1147.6 1931.6,1125.5 1943.4,789.5" fill="none" stroke="#148a14" stroke-width="4.2" stroke-linejoin="round"/>
<rect x="1518.80" y="1256.20" width="26.00" height="26.00" fill="#009100" stroke="#010" stroke-width="1.9"/>
<rect x="1552.60" y="1167.10" width="26.00" height="26.00" fill="#009100" stroke="#010" stroke-width="1.9"/>
<rect x="1666.00" y="1131.20" width="26.00" height="26.00" fill="#009100" stroke="#010" stroke-width="1.9"/>
<rect x="1719.70" y="1148.10" width="26.00" height="26.00" fill="#009100" stroke="#010" stroke-width="1.9"/>
<rect x="1867.00" y="1134.60" width="26.00" height="26.00" fill="#009100" stroke="#010" stroke-width="1.9"/>
<rect x="1918.60" y="1112.50" width="26.00" height="26.00" fill="#009100" stroke="#010" stroke-width="1.9"/>
<rect x="1930.40" y="776.50" width="26.00" height="26.00" fill="#009100" stroke="#010" stroke-width="1.9"/>
<text transform="translate(42.1,995.5) rotate(-90)" font-size="51.5">HIV DNA (/10<tspan font-size="34" dy="-17.5">6</tspan><tspan dy="17.5"> CD4</tspan><tspan font-size="34" dy="-17.5">+</tspan><tspan dy="17.5"> T cells)</tspan></text>
<text transform="translate(734.1,1092.5) rotate(-90)" font-size="51.5">Cell-Associated HIV RNA (/10<tspan font-size="34" dy="-17.5">6</tspan><tspan dy="17.5"> TBP)</tspan></text>
<text transform="translate(1408.8,1067.3) rotate(-90)" font-size="51.3">Infectious Units (/10<tspan font-size="34" dy="-17.5">6</tspan><tspan dy="17.5"> CD4</tspan><tspan font-size="34" dy="-17.5">+</tspan><tspan dy="17.5"> T cells)</tspan></text>
<text x="615.6" y="1525.1" font-size="51.73">Time after Discontinuation of ART (days)</text>
<text transform="translate(2076.4,135.4) rotate(90)" font-size="60.4">Participant 04</text>
<text transform="translate(2074.3,853.8) rotate(90)" font-size="60.4">Participant 30</text>
<line x1="2039" y1="22" x2="2039" y2="630" stroke="#000" stroke-width="3.4"/>
<line x1="2037.5" y1="770" x2="2037.5" y2="1371.4" stroke="#000" stroke-width="3.4"/>
</svg>
</body></html>
